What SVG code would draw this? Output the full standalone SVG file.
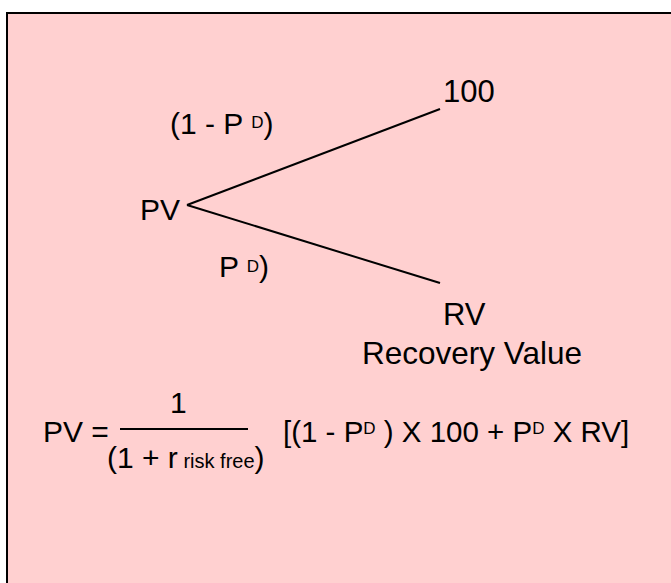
<svg xmlns="http://www.w3.org/2000/svg" width="671" height="583" viewBox="0 0 671 583">
<style>
text{font-family:"Liberation Sans",Arial,sans-serif;font-size:30px;fill:#000}
.sup{font-size:17px}
.sm{font-size:20px}
.ln{stroke:#000;stroke-width:2;fill:none}
</style>
<rect x="0" y="0" width="671" height="583" fill="#fff"/>
<rect id="frame" x="7" y="13" width="700" height="620" fill="#FFD0D0" stroke="#000" stroke-width="2"/>
<g id="connectors">
<line class="ln" x1="187" y1="205" x2="440" y2="109"/>
<line class="ln" x1="187" y1="205" x2="440" y2="283"/>
</g>
<g id="node-pv"><text x="140" y="220">PV</text></g>
<g id="node-100"><text x="443" y="102" style="font-size:31px">100</text></g>
<g id="node-rv"><text x="443" y="325" style="font-size:31px">RV</text><text x="362" y="364" style="font-size:31.5px">Recovery Value</text></g>
<g id="label-up"><text x="170" y="134">(1 - P <tspan class="sup" dy="-6">D</tspan><tspan dy="6">)</tspan></text></g>
<g id="label-down"><text x="219" y="277">P <tspan class="sup" dy="-5">D</tspan><tspan dy="5">)</tspan></text></g>
<g id="formula">
<text x="43" y="442">PV =</text>
<text x="170" y="413">1</text>
<line class="ln" x1="120" y1="429" x2="248" y2="429"/>
<text x="107" y="468">(1 + r<tspan class="sm"> risk free</tspan>)</text>
<text x="283" y="442" style="font-size:29.5px">[(1 - P<tspan class="sup" dy="-8">D</tspan><tspan dy="8"> ) X 100 + P</tspan><tspan class="sup" dy="-8">D</tspan><tspan dy="8"> X RV]</tspan></text>
</g>
</svg>
